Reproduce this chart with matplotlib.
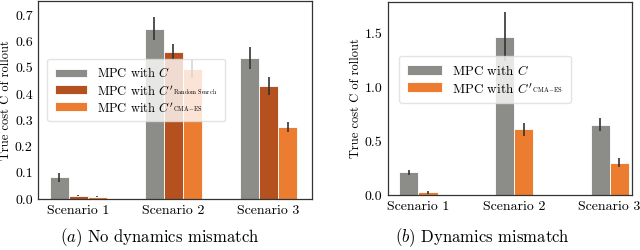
import numpy as np
import matplotlib
matplotlib.use("Agg")
import matplotlib.pyplot as plt

plt.rcParams['font.family'] = ['cmr10', 'DejaVu Serif']
plt.rcParams['mathtext.fontset'] = 'cm'
plt.rcParams['axes.formatter.use_mathtext'] = True
plt.rcParams['axes.unicode_minus'] = False

scenarios = ["Scenario 1", "Scenario 2", "Scenario 3"]

# (a) no dynamics mismatch
a_cost_c = [0.082, 0.650, 0.537]
a_err_c = [0.018, 0.045, 0.042]
a_cost_rs = [0.013, 0.560, 0.430]
a_err_rs = [0.003, 0.030, 0.035]
a_cost_cma = [0.008, 0.495, 0.275]
a_err_cma = [0.002, 0.035, 0.020]

# (b) dynamics mismatch
b_cost_c = [0.21, 1.47, 0.65]
b_err_c = [0.02, 0.23, 0.06]
b_cost_cma = [0.025, 0.61, 0.30]
b_err_cma = [0.015, 0.06, 0.04]

gray = "#8c8d88"
dark_orange = "#b5501f"
orange = "#ec7c30"

lab_c = r"MPC with $C$"
lab_rs = r"MPC with $C'_{{}^{\mathrm{Random\ Search}}}$"
lab_cma = r"MPC with $C'_{{}^{\mathrm{CMA\!-\!ES}}}$"

fig = plt.figure(figsize=(6.4, 2.5), dpi=100)
ax1 = fig.add_axes([0.060, 0.204, 0.428, 0.792])
ax2 = fig.add_axes([0.606, 0.220, 0.381, 0.772])

x = np.arange(len(scenarios))
w = 0.2
err_kw = dict(ecolor="#333333", elinewidth=1.2, capsize=0)

ax1.bar(x - w, a_cost_c, w, yerr=a_err_c, color=gray, edgecolor="white", linewidth=0.6,
        error_kw=err_kw, label=lab_c)
ax1.bar(x, a_cost_rs, w, yerr=a_err_rs, color=dark_orange, edgecolor="white", linewidth=0.6,
        error_kw=err_kw, label=lab_rs)
ax1.bar(x + w, a_cost_cma, w, yerr=a_err_cma, color=orange, edgecolor="white", linewidth=0.6,
        error_kw=err_kw, label=lab_cma)
ax1.set_xlim(-0.42, 2.46)
ax1.set_ylim(0, 0.755)
ax1.set_yticks(np.arange(0, 0.71, 0.1))

ax2.bar(x - w / 2, b_cost_c, w, yerr=b_err_c, color=gray, edgecolor="white", linewidth=0.6,
        error_kw=err_kw, label=lab_c)
ax2.bar(x + w / 2, b_cost_cma, w, yerr=b_err_cma, color=orange, edgecolor="white", linewidth=0.6,
        error_kw=err_kw, label=lab_cma)
ax2.set_xlim(-0.32, 2.23)
ax2.set_ylim(0, 1.79)
ax2.set_yticks([0.0, 0.5, 1.0, 1.5])

for ax in (ax1, ax2):
    ax.set_xticks(x)
    ax.set_xticklabels(scenarios, fontsize=10)
    ax.tick_params(axis='y', labelsize=10)
    ax.tick_params(length=0, pad=4)
    ax.set_ylabel("True cost C of rollout", fontsize=9, labelpad=2)
    for s in ax.spines.values():
        s.set_color("#333333")
        s.set_linewidth(0.9)
    ax.yaxis.set_major_formatter(matplotlib.ticker.FormatStrFormatter('%.1f'))

ax1.legend(loc="center left", bbox_to_anchor=(0.01, 0.55), fontsize=9, handlelength=2.6,
           handletextpad=0.8, framealpha=0.8, edgecolor="#dddddd", borderpad=0.6,
           labelspacing=0.35)
ax2.legend(loc="center left", bbox_to_anchor=(0.02, 0.6), fontsize=9.5, handlelength=2.6,
           handletextpad=0.8, framealpha=0.8, edgecolor="#dddddd", borderpad=0.6,
           labelspacing=0.35)

fig.text(0.25, 0.05, r"$(a)$ No dynamics mismatch", ha="center", va="center", fontsize=12)
fig.text(0.753, 0.05, r"$(b)$ Dynamics mismatch", ha="center", va="center", fontsize=12)

fig.savefig("out.png", dpi=100)
